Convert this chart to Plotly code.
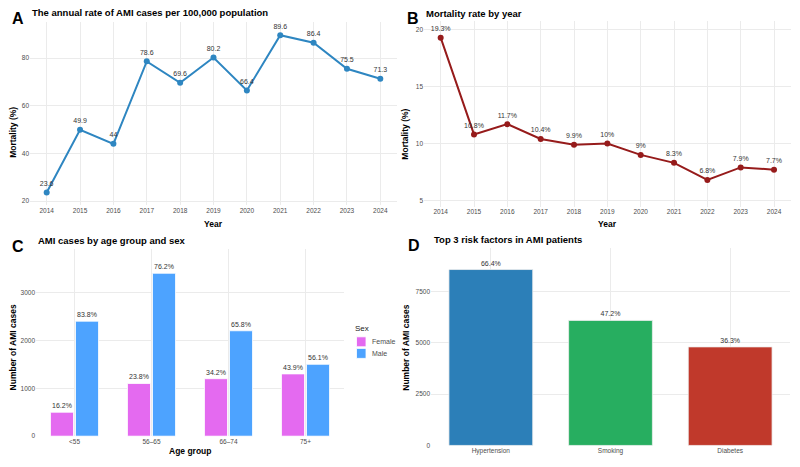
import plotly.graph_objects as go

# ---------------- data ----------------
years = [2014, 2015, 2016, 2017, 2018, 2019, 2020, 2021, 2022, 2023, 2024]
ami_rate = [23.6, 49.9, 44, 78.6, 69.6, 80.2, 66.4, 89.6, 86.4, 75.5, 71.3]
ami_rate_labels = ["23.6", "49.9", "44", "78.6", "69.6", "80.2", "66.4", "89.6", "86.4", "75.5", "71.3"]
mortality = [19.3, 10.8, 11.7, 10.4, 9.9, 10, 9, 8.3, 6.8, 7.9, 7.7]
mortality_labels = ["19.3%", "10.8%", "11.7%", "10.4%", "9.9%", "10%", "9%", "8.3%", "6.8%", "7.9%", "7.7%"]

age_groups = ["<55", "56\u201365", "66\u201374", "75+"]
female_cases = [500, 1100, 1200, 1300]
male_cases = [2400, 3400, 2200, 1500]
female_labels = ["16.2%", "23.8%", "34.2%", "43.9%"]
male_labels = ["83.8%", "76.2%", "65.8%", "56.1%"]

risk_factors = ["Hypertension", "Smoking", "Diabetes"]
risk_cases = [8570, 6090, 4800]
risk_labels = ["66.4%", "47.2%", "36.3%"]

sexes = ["Female", "Male"]

# ---------------- style ----------------
FONT = "Liberation Sans, Arial, Helvetica, sans-serif"
GRID = "#EBEBEB"
TICK = "#4D4D4D"
LBL = "#333333"
C_A = "#2E86C1"
C_B = "#961B1B"
C_F = "#E46AF0"
C_M = "#4DA3FF"
W, H = 800, 467

def px(x):
    return x / W

def py(y):
    return 1 - y / H

fig = go.Figure()

# Panel A
fig.add_trace(go.Scatter(
    x=years, y=ami_rate, mode="lines+markers+text", text=ami_rate_labels,
    textposition="top center", textfont=dict(size=7, color=LBL, family=FONT),
    line=dict(color=C_A, width=2), marker=dict(size=6, color=C_A),
    xaxis="x", yaxis="y", showlegend=False, cliponaxis=False))

# Panel B
fig.add_trace(go.Scatter(
    x=years, y=mortality, mode="lines+markers+text", text=mortality_labels,
    textposition="top center", textfont=dict(size=7, color=LBL, family=FONT),
    line=dict(color=C_B, width=2), marker=dict(size=6, color=C_B),
    xaxis="x2", yaxis="y2", showlegend=False, cliponaxis=False))

# Panel C
fig.add_trace(go.Bar(
    x=age_groups, y=female_cases, name="Female", text=female_labels,
    textposition="outside", textfont=dict(size=7, color=LBL, family=FONT),
    marker=dict(color=C_F, line=dict(color="white", width=0.8)),
    xaxis="x3", yaxis="y3", cliponaxis=False, showlegend=False))
fig.add_trace(go.Bar(
    x=age_groups, y=male_cases, name="Male", text=male_labels,
    textposition="outside", textfont=dict(size=7, color=LBL, family=FONT),
    marker=dict(color=C_M, line=dict(color="white", width=0.8)),
    xaxis="x3", yaxis="y3", cliponaxis=False, showlegend=False))

# Panel D
fig.add_trace(go.Bar(
    x=risk_factors, y=risk_cases, text=risk_labels,
    textposition="outside", textfont=dict(size=7, color=LBL, family=FONT),
    marker=dict(color=["#2C7FB8", "#27AE60", "#C0392B"], line=dict(color="#EEEEEE", width=0.8)),
    width=0.7, xaxis="x4", yaxis="y4", showlegend=False, cliponaxis=False))

def xax(domain, anchor, rng=None, dtick=None):
    d = dict(domain=domain, anchor=anchor, showgrid=True, gridcolor=GRID, gridwidth=1,
             zeroline=False, showline=False, ticks="",
             tickfont=dict(size=6.5, color=TICK, family=FONT))
    if rng is not None:
        d["range"] = rng
    if dtick is not None:
        d["dtick"] = dtick
    return d

def yax(domain, anchor, rng, dtick):
    return dict(domain=domain, anchor=anchor, range=rng, dtick=dtick, showgrid=True,
                gridcolor=GRID, gridwidth=1, zeroline=False, showline=False, ticks="",
                tickfont=dict(size=6.5, color=TICK, family=FONT))

fig.update_layout(
    width=W, height=H, margin=dict(l=0, r=0, t=0, b=0),
    paper_bgcolor="white", plot_bgcolor="white",
    font=dict(family=FONT), showlegend=False,
    barmode="group", bargap=0.35, bargroupgap=0.08,
    xaxis=xax([px(30), px(397)], "y", [2013.5, 2024.5], 1),
    yaxis=yax([py(206.7), py(21.7)], "x", [18.2, 95.3], 20),
    xaxis2=xax([px(424), px(790.7)], "y2", [2013.5, 2024.5], 1),
    yaxis2=yax([py(208), py(20.7)], "x2", [4.45, 20.8], 5),
    xaxis3=xax([px(36), px(344)], "y3"),
    yaxis3=yax([py(439), py(250.7)], "x3", [0, 3905], 1000),
    xaxis4=xax([px(431), px(790)], "y4"),
    yaxis4=yax([py(448.3), py(250)], "x4", [0, 9600], 2500),
)

def text(t, x, y, size, color="black", bold=False, anchor="left", angle=0):
    fig.add_annotation(text=("<b>%s</b>" % t) if bold else t, x=px(x), y=py(y),
                       xref="paper", yref="paper", xanchor=anchor, yanchor="middle",
                       showarrow=False, textangle=angle,
                       font=dict(size=size, color=color, family=FONT))

# panel letters
for t, x, y in [("A", 10, 18.3), ("B", 405, 18.3), ("C", 10, 247.7), ("D", 406, 247.3)]:
    text(t, x, y, 16, bold=True)

# panel titles
for t, x, y in [
    ("The annual rate of AMI cases per 100,000 population", 30, 13),
    ("Mortality rate by year", 424, 13.3),
    ("AMI cases by age group and sex", 36, 241.7),
    ("Top 3 risk factors in AMI patients", 431.5, 241),
]:
    text(t, x, y, 9.5, bold=True)

# axis titles
text("Year", 213, 225, 8.5, bold=True, anchor="center")
text("Year", 607, 225, 8.5, bold=True, anchor="center")
text("Age group", 190, 453.5, 8.5, bold=True, anchor="center")
text("Mortality (%)", 12.7, 133, 8.5, bold=True, anchor="center", angle=-90)
text("Mortality (%)", 405.5, 135, 8.5, bold=True, anchor="center", angle=-90)
text("Number of AMI cases", 12.7, 350, 8.5, bold=True, anchor="center", angle=-90)
text("Number of AMI cases", 406, 350, 8.5, bold=True, anchor="center", angle=-90)

# legend for panel C
text("Sex", 352.5, 331, 8, color="#222222")
for name, col, y0 in zip(sexes, [C_F, C_M], [339, 350.7]):
    fig.add_shape(type="rect", xref="paper", yref="paper",
                  x0=px(356.5), x1=px(366), y0=py(y0 + 10), y1=py(y0),
                  fillcolor=col, line=dict(color="white", width=0.8))
    text(name, 369.5, y0 + 5, 7, color=TICK)

fig.write_html("out.html")
